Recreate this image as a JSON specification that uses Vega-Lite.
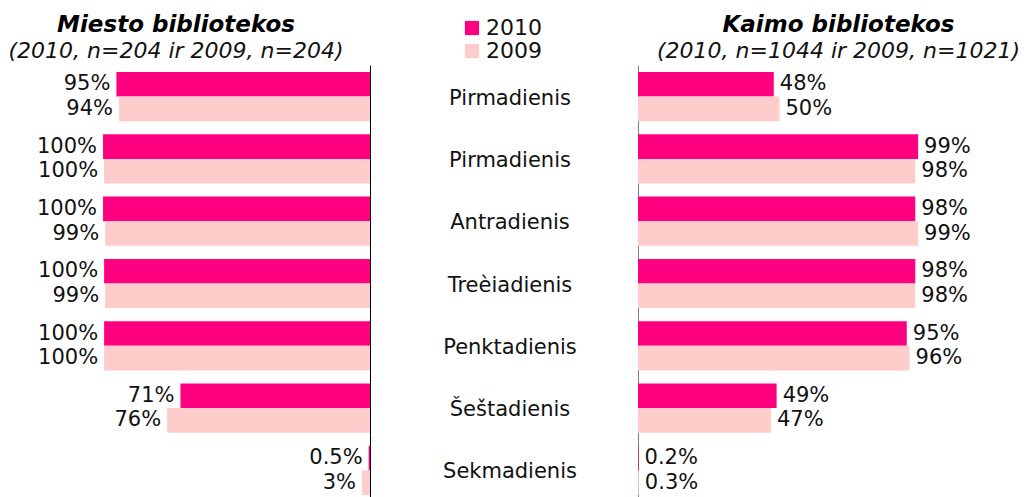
{
  "$schema": "https://vega.github.io/schema/vega-lite/v6.json",
  "padding": {"top": 14, "left": 0, "right": 0, "bottom": 0},
  "autosize": {"type": "pad"},
  "background": "white",
  "bounds": "flush",
  "spacing": 0,
  "config": {
    "view": {"stroke": null},
    "font": "DejaVu Sans",
    "text": {"font": "DejaVu Sans", "fontSize": 21, "color": "#111111"},
    "title": {"font": "DejaVu Sans", "fontSize": 23, "fontWeight": "bold", "fontStyle": "italic", "color": "#000000", "subtitleFont": "DejaVu Sans", "subtitleFontSize": 22, "subtitleFontStyle": "italic", "subtitleColor": "#111111", "anchor": "middle", "offset": 3, "subtitlePadding": 4},
    "legend": {"orient": "none", "legendX": 461, "legendY": -48, "title": null, "labelFont": "DejaVu Sans", "labelFontSize": 22, "labelColor": "#111111", "symbolType": "square", "symbolSize": 200, "symbolStrokeWidth": 0, "rowPadding": 1, "labelOffset": 3}
  },
  "datasets": {
    "d": [
      {"area": "Miesto", "row": 1, "day": "Pirmadienis", "year": "2010", "value": 95, "label": "95%"},
      {"area": "Miesto", "row": 1, "day": "Pirmadienis", "year": "2009", "value": 94, "label": "94%"},
      {"area": "Miesto", "row": 2, "day": "Pirmadienis", "year": "2010", "value": 100, "label": "100%"},
      {"area": "Miesto", "row": 2, "day": "Pirmadienis", "year": "2009", "value": 99.6, "label": "100%"},
      {"area": "Miesto", "row": 3, "day": "Antradienis", "year": "2010", "value": 100, "label": "100%"},
      {"area": "Miesto", "row": 3, "day": "Antradienis", "year": "2009", "value": 99.2, "label": "99%"},
      {"area": "Miesto", "row": 4, "day": "Treèiadienis", "year": "2010", "value": 99.6, "label": "100%"},
      {"area": "Miesto", "row": 4, "day": "Treèiadienis", "year": "2009", "value": 99.2, "label": "99%"},
      {"area": "Miesto", "row": 5, "day": "Penktadienis", "year": "2010", "value": 99.6, "label": "100%"},
      {"area": "Miesto", "row": 5, "day": "Penktadienis", "year": "2009", "value": 99.6, "label": "100%"},
      {"area": "Miesto", "row": 6, "day": "Šeštadienis", "year": "2010", "value": 71, "label": "71%"},
      {"area": "Miesto", "row": 6, "day": "Šeštadienis", "year": "2009", "value": 76, "label": "76%"},
      {"area": "Miesto", "row": 7, "day": "Sekmadienis", "year": "2010", "value": 0.5, "label": "0.5%"},
      {"area": "Miesto", "row": 7, "day": "Sekmadienis", "year": "2009", "value": 3, "label": "3%"},
      {"area": "Kaimo", "row": 1, "day": "Pirmadienis", "year": "2010", "value": 48, "label": "48%"},
      {"area": "Kaimo", "row": 1, "day": "Pirmadienis", "year": "2009", "value": 50, "label": "50%"},
      {"area": "Kaimo", "row": 2, "day": "Pirmadienis", "year": "2010", "value": 99, "label": "99%"},
      {"area": "Kaimo", "row": 2, "day": "Pirmadienis", "year": "2009", "value": 98, "label": "98%"},
      {"area": "Kaimo", "row": 3, "day": "Antradienis", "year": "2010", "value": 98, "label": "98%"},
      {"area": "Kaimo", "row": 3, "day": "Antradienis", "year": "2009", "value": 99, "label": "99%"},
      {"area": "Kaimo", "row": 4, "day": "Treèiadienis", "year": "2010", "value": 98, "label": "98%"},
      {"area": "Kaimo", "row": 4, "day": "Treèiadienis", "year": "2009", "value": 98, "label": "98%"},
      {"area": "Kaimo", "row": 5, "day": "Penktadienis", "year": "2010", "value": 95, "label": "95%"},
      {"area": "Kaimo", "row": 5, "day": "Penktadienis", "year": "2009", "value": 96, "label": "96%"},
      {"area": "Kaimo", "row": 6, "day": "Šeštadienis", "year": "2010", "value": 49, "label": "49%"},
      {"area": "Kaimo", "row": 6, "day": "Šeštadienis", "year": "2009", "value": 47, "label": "47%"},
      {"area": "Kaimo", "row": 7, "day": "Sekmadienis", "year": "2010", "value": 0.2, "label": "0.2%"},
      {"area": "Kaimo", "row": 7, "day": "Sekmadienis", "year": "2009", "value": 0.3, "label": "0.3%"}
    ]
  },
  "resolve": {"scale": {"x": "independent", "y": "independent", "yOffset": "independent"}},
  "hconcat": [
    {
      "width": 370,
      "height": 432,
      "title": {"text": "Miesto bibliotekos", "subtitle": "(2010, n=204 ir 2009, n=204)", "dx": -9},
      "data": {"name": "d"},
      "transform": [{"filter": "datum.area === 'Miesto'"}],
      "encoding": {
        "y": {"field": "row", "type": "ordinal", "scale": {"type": "band", "paddingInner": 0.21, "paddingOuter": 0.072, "align": 0.78}, "axis": {"orient": "right", "labels": false, "ticks": false, "title": null, "domainColor": "#000000", "domainWidth": 1}},
        "yOffset": {"field": "year", "type": "nominal", "scale": {"domain": ["2010", "2009"]}},
        "x": {"field": "value", "type": "quantitative", "scale": {"domain": [0, 138.6], "reverse": true, "nice": false, "zero": true}, "axis": null}
      },
      "layer": [
        {"mark": {"type": "bar"}, "encoding": {"color": {"field": "year", "type": "nominal", "scale": {"domain": ["2010", "2009"], "range": ["#FF0080", "#FFCCCC"]}}}},
        {"mark": {"type": "text", "align": "right", "baseline": "middle", "dx": -6}, "encoding": {"text": {"field": "label"}}}
      ]
    },
    {
      "width": 268,
      "height": 432,
      "data": {"name": "d"},
      "transform": [{"filter": "datum.area === 'Miesto' && datum.year === '2010'"}],
      "mark": {"type": "text", "align": "center", "baseline": "middle", "dx": 6, "dy": 2},
      "encoding": {
        "y": {"field": "row", "type": "ordinal", "scale": {"type": "band", "paddingInner": 0.21, "paddingOuter": 0.072, "align": 0.78}, "axis": null},
        "x": {"datum": 0, "type": "quantitative", "scale": {"domain": [-1, 1]}, "axis": null},
        "text": {"field": "day"}
      }
    },
    {
      "width": 391,
      "height": 432,
      "title": {"text": "Kaimo bibliotekos", "subtitle": "(2010, n=1044 ir 2009, n=1021)", "dx": 5},
      "data": {"name": "d"},
      "transform": [{"filter": "datum.area === 'Kaimo'"}],
      "encoding": {
        "y": {"field": "row", "type": "ordinal", "scale": {"type": "band", "paddingInner": 0.21, "paddingOuter": 0.072, "align": 0.78}, "axis": {"orient": "left", "labels": false, "ticks": false, "title": null, "domainColor": "#808080", "domainWidth": 1}},
        "yOffset": {"field": "year", "type": "nominal", "scale": {"domain": ["2010", "2009"]}},
        "x": {"field": "value", "type": "quantitative", "scale": {"domain": [0, 138.2], "nice": false, "zero": true}, "axis": null}
      },
      "layer": [
        {"mark": {"type": "bar"}, "encoding": {"color": {"field": "year", "type": "nominal", "scale": {"domain": ["2010", "2009"], "range": ["#FF0080", "#FFCCCC"]}}}},
        {"mark": {"type": "text", "align": "left", "baseline": "middle", "dx": 6}, "encoding": {"text": {"field": "label"}}}
      ]
    }
  ]
}
